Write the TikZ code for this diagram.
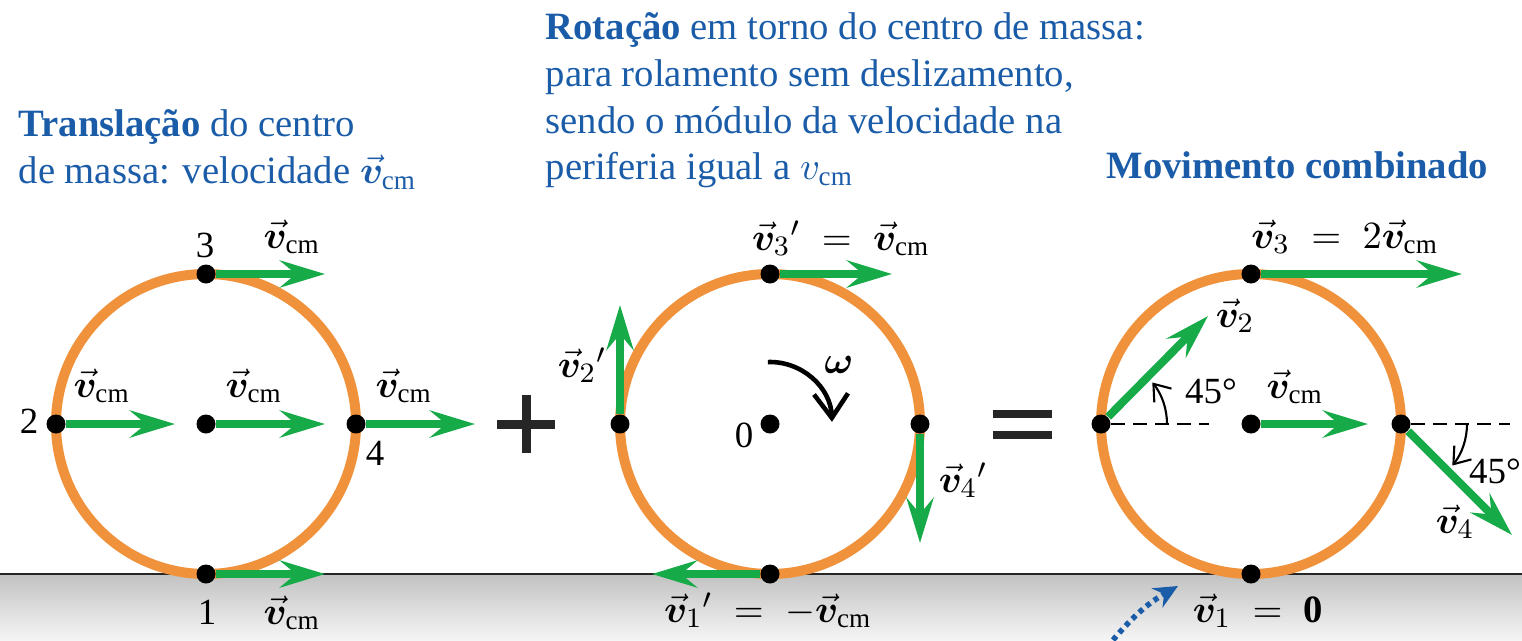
\documentclass[tikz,border=0pt]{standalone}
\usepackage{fontspec}
\setmainfont{Liberation Serif}
\usepackage{bm}
\usepackage{tikz}
\usetikzlibrary{arrows.meta,positioning,calc,backgrounds}
\definecolor{wheelorange}{RGB}{240,146,60}
\definecolor{velgreen}{RGB}{22,170,72}
\definecolor{titleblue}{RGB}{26,92,168}
\newcommand{\vv}{\vec{\bm{v}}}

\begin{document}
\begin{tikzpicture}[
    vel/.style={-{Stealth[length=4.5mm,width=2.7mm,inset=1.6mm]},line width=0.8mm,draw=velgreen},
    wheel/.style={draw=wheelorange,line width=1mm},
    dot/.style={circle,fill=black,inner sep=0pt,minimum size=1.9mm},
    lbl/.style={anchor=base,inner sep=0pt,font=\fontsize{11pt}{13pt}\selectfont},
    num/.style={lbl,font=\fontsize{10.5pt}{12pt}\selectfont},
    heading/.style={anchor=north west,align=left,inner sep=0pt,text=titleblue,
      font=\fontsize{11pt}{13.3pt}\selectfont},
    guide/.style={draw=black,line width=0.6pt,dash pattern=on 1.4mm off 0.8mm},
    sweep/.style={-{Straight Barb[length=1.5mm,width=2.2mm]},line width=0.6pt},
    spin/.style={-{Straight Barb[length=2.4mm,width=3.4mm]},line width=1.3pt},
    sign/.style={line width=0.9mm,draw=black!85},
    hint/.style={-{Stealth[length=2.4mm,width=2.2mm,inset=0.8mm]},draw=titleblue,
      line width=0.55mm,dash pattern=on 0.5mm off 0.45mm}
  ]
    \useasboundingbox (0,0) rectangle (15.22,6.40);

    % Wheel centres, ground and the contact points.
    \coordinate (w1) at (2.06,2.16);
    \coordinate (w2) at (7.70,2.16);
    \coordinate (w3) at (12.51,2.16);
    \coordinate (gl) at (0,0.66);
    \coordinate (gr) at (15.22,0.66);
    \foreach \w in {1,2,3} {
      \node[dot] (c\w) at (w\w) {};
      \node[dot] (t\w) at ($(w\w)+(0,1.5)$) {};
      \node[dot] (l\w) at ($(w\w)+(-1.5,0)$) {};
      \node[dot] (r\w) at ($(w\w)+(1.5,0)$) {};
      \node[dot] (b\w) at ($(w\w)+(0,-1.5)$) {};
    }

    % Headings.
    \node[heading] (transl) at (0.18,5.31)
      {\textbf{Translação} do centro\\de massa: velocidade $\vv_{\mathrm{cm}}$};
    \node[heading] (rot) at (5.45,6.28)
      {\textbf{Rotação} em torno do centro de massa:\\
       para rolamento sem deslizamento,\\
       sendo o módulo da velocidade na\\
       periferia igual a $v_{\mathrm{cm}}$};
    \node[heading,anchor=base west] (combo) at (11.06,4.62)
      {\textbf{Movimento combinado}};

    % Arrow tips.
    \foreach \p in {t1,l1,c1,r1,b1}
      \coordinate (\p-tip) at ($(\p)+(1.19,0)$);
    \coordinate (t2-tip) at ($(t2)+(1.22,0)$);
    \coordinate (l2-tip) at ($(l2)+(0,1.19)$);
    \coordinate (r2-tip) at ($(r2)+(0,-1.19)$);
    \coordinate (b2-tip) at ($(b2)+(-1.18,0)$);
    \coordinate (t3-tip) at ($(t3)+(2.11,0)$);
    \coordinate (l3-tip) at ($(l3)+(1.07,1.08)$);
    \coordinate (c3-tip) at ($(c3)+(1.17,0)$);
    \coordinate (r3-tip) at ($(r3)+(1.11,-1.11)$);
    \coordinate (l3-guide) at ($(l3)+(1.08,0)$);
    \coordinate (r3-guide) at ($(r3)+(1.09,0)$);

    \begin{scope}[on background layer]
      \shade[top color=black!24,bottom color=black!4] (0,0) rectangle (gr);
      \draw[line width=0.6pt,draw=black!85] (gl) -- (gr);
      \foreach \w in {1,2,3}
        \draw[wheel] (w\w) circle[radius=1.5];
      \foreach \p in {t1,l1,c1,r1,b1,t2,l2,r2,b2,t3,l3,c3,r3}
        \draw[vel] (\p) -- (\p-tip);
      \draw[guide] (l3) -- (l3-guide);
      \draw[guide] (r3) -- (r3-guide);
    \end{scope}

    % Angle marks and spin.
    \draw[sweep] ($(l3)+(0.66,0)$) arc[start angle=0,end angle=39,radius=0.66];
    \draw[sweep] ($(r3)+(0.66,0)$) arc[start angle=0,end angle=-39,radius=0.66];
    \draw[spin] ($(w2)+(92:0.62)$) arc[start angle=92,end angle=2,radius=0.62];

    % Plus and equals.
    \coordinate (plus) at (5.26,2.16);
    \coordinate (equals) at (10.22,2.155);
    \draw[sign] ($(plus)+(-0.29,0)$) -- ($(plus)+(0.29,0)$);
    \draw[sign] ($(plus)+(0,-0.29)$) -- ($(plus)+(0,0.29)$);
    \draw[sign,line width=0.8mm] ($(equals)+(-0.295,0.105)$) -- ($(equals)+(0.295,0.105)$);
    \draw[sign,line width=0.8mm] ($(equals)+(-0.295,-0.105)$) -- ($(equals)+(0.295,-0.105)$);

    % Labels, translation.
    \node[num] (n3) at (2.05,3.83) {3};
    \node[lbl] (vt1) at (2.92,3.92) {$\vv_{\mathrm{cm}}$};
    \node[num] (n2) at (0.29,2.07) {2};
    \node[lbl] (vl1) at (1.02,2.43) {$\vv_{\mathrm{cm}}$};
    \node[lbl] (vc1) at (2.54,2.43) {$\vv_{\mathrm{cm}}$};
    \node[lbl] (vr1) at (4.04,2.43) {$\vv_{\mathrm{cm}}$};
    \node[num] (n4) at (3.75,1.75) {4};
    \node[num] (n1) at (2.07,0.16) {1};
    \node[lbl] (vb1) at (2.92,0.16) {$\vv_{\mathrm{cm}}$};

    % Labels, rotation.
    \node[lbl] (vt2) at (8.41,3.90) {$\vv_3{}' \;=\; \vv_{\mathrm{cm}}$};
    \node[lbl] (vl2) at (5.82,2.63) {$\vv_2{}'$};
    \node[lbl] (vr2) at (9.63,1.48) {$\vv_4{}'$};
    \node[lbl] (vb2) at (7.68,0.18) {$\vv_1{}' \;=\; -\vv_{\mathrm{cm}}$};
    \node[num] (n0) at (7.44,1.93) {0};
    \node[lbl] (omega) at (8.39,2.67) {$\bm{\omega}$};

    % Labels, combined motion.
    \node[lbl] (vt3) at (13.45,3.92) {$\vv_3 \;=\; 2\vv_{\mathrm{cm}}$};
    \node[lbl] (vl3) at (12.35,3.13) {$\vv_2$};
    \node[num] (ang2) at (12.11,2.37) {45°};
    \node[lbl] (vc3) at (12.95,2.42) {$\vv_{\mathrm{cm}}$};
    \node[num] (ang4) at (14.95,1.57) {45°};
    \node[lbl] (vr3) at (14.55,1.07) {$\vv_4$};
    \node[lbl] (vb3) at (12.58,0.18) {$\vv_1 \;=\; \mathbf{0}$};

    % Contact point hint.
    \coordinate (hintfrom) at (11.13,0);
    \coordinate (hinttip) at (11.78,0.54);
    \draw[hint] (hintfrom) to[bend left=10] (hinttip);
  \end{tikzpicture}
\end{document}
